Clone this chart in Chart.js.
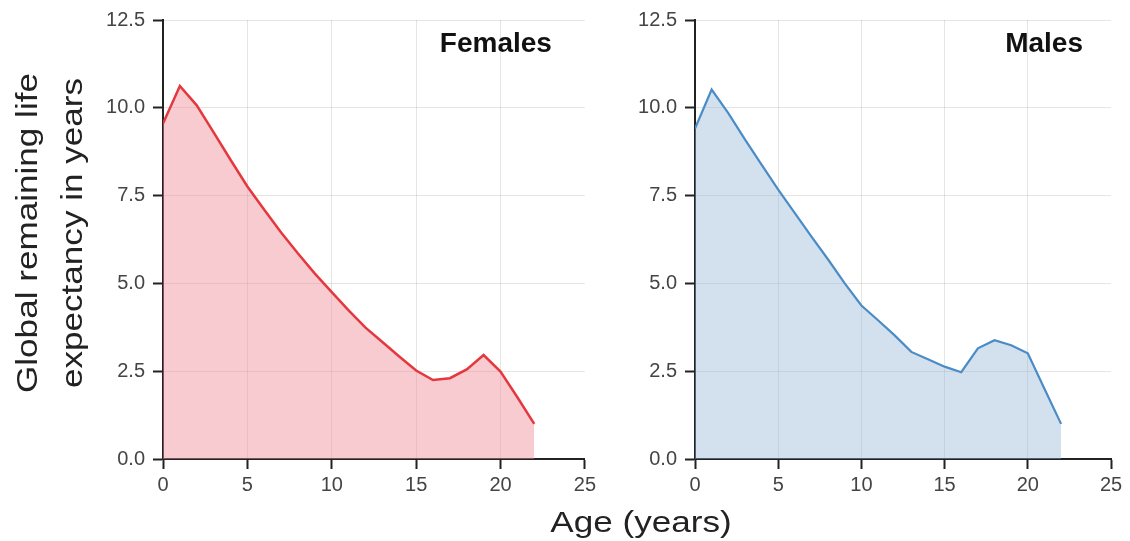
<!DOCTYPE html>
<html>
<head>
<meta charset="utf-8">
<script src="https://cdn.jsdelivr.net/npm/chart.js@4.4.1/dist/chart.umd.min.js"></script>
<style>
body{margin:0;background:#fff;width:1130px;height:541px;overflow:hidden;position:relative;font-family:"Liberation Sans",Arial,sans-serif;}
#c1{position:absolute;left:0;top:0;}
#c2{position:absolute;left:600px;top:0;}
.ylab{position:absolute;left:-151px;top:188px;width:400px;height:90px;text-align:center;font-size:30px;line-height:45px;color:#222;transform:rotate(-90deg) scaleX(1.17);transform-origin:50% 50%;white-space:nowrap;}
.xlab{position:absolute;left:641px;top:507px;line-height:30px;transform:translateX(-50%) scaleX(1.17);font-size:30px;color:#222;white-space:nowrap;}
</style>
</head>
<body>
<canvas id="c1" width="600" height="520"></canvas>
<canvas id="c2" width="530" height="520"></canvas>
<div class="ylab">Global remaining life<br>expectancy in years</div>
<div class="xlab">Age (years)</div>
<script>
// data
var ages = [0,1,2,3,4,5,6,7,8,9,10,11,12,13,14,15,16,17,18,19,20,21,22];
var females = [9.55,10.62,10.07,9.3,8.52,7.76,7.1,6.45,5.85,5.28,4.75,4.23,3.74,3.33,2.92,2.52,2.25,2.3,2.55,2.96,2.49,1.76,1.0];
var males = [9.41,10.52,9.85,9.1,8.38,7.67,7.0,6.33,5.68,5.0,4.37,3.95,3.52,3.05,2.84,2.63,2.47,3.15,3.38,3.24,3.01,2.0,1.0];
var xTicks = [0,5,10,15,20,25];
var yTicks = [0,2.5,5,7.5,10,12.5];

//panel title in the top right corner
var titlePlugin = {
    id:"paneltitle",
    afterDraw:function(chart){
        var c = chart.ctx, a = chart.chartArea, o = chart.options.plugins.paneltitle;
        c.save();
        c.font = "bold 28px 'Liberation Sans', Arial, sans-serif";
        c.fillStyle = "#111";
        c.textAlign = "right";
        c.textBaseline = "alphabetic";
        c.fillText(o.text, a.right - o.inset, a.top + 32);
        c.restore();
    }
};

function makeChart(id, vals, line, fill, lw, title, yw, pad, inset){
    var pts = ages.map(function(a,i){return {x:a, y:vals[i]};});
    return new Chart(document.getElementById(id), {
        type:"line",
        data:{datasets:[{data:pts, borderColor:line, backgroundColor:fill, borderWidth:lw, fill:"origin", pointRadius:0, tension:0}]},
        plugins:[titlePlugin],
        options:{
            responsive:false, animation:false,
            layout:{padding:{top:18, right:pad, left:0, bottom:0}},
            plugins:{legend:{display:false}, tooltip:{enabled:false}, paneltitle:{text:title, inset:inset}},
            scales:{
                x:{type:"linear", min:0, max:25,
                    afterBuildTicks:function(s){s.ticks = xTicks.map(function(v){return {value:v};});},
                    afterFit:function(s){s.height = 61;},
                    grid:{color:function(ctx){return ctx.tick && ctx.tick.value==25 ? "rgba(0,0,0,0)" : "rgba(0,0,0,0.1)";}, tickLength:10, tickColor:"#222", tickWidth:2},
                    border:{color:"#222", width:2},
                    ticks:{color:"#444", font:{size:20, family:"'Liberation Sans', Arial"}, padding:4, maxRotation:0}
                },
                y:{min:0, max:12.5,
                    afterBuildTicks:function(s){s.ticks = yTicks.map(function(v){return {value:v};});},
                    afterFit:function(s){s.width = yw;},
                    grid:{color:"rgba(0,0,0,0.1)", tickLength:10, tickColor:"#222", tickWidth:2},
                    border:{color:"#222", width:2},
                    ticks:{color:"#444", font:{size:20, family:"'Liberation Sans', Arial"}, padding:8,
                        callback:function(v){return v.toFixed(1);}}
                }
            }
        }
    });
}

makeChart("c1", females, "#e5383e", "rgba(240,140,150,0.45)", 2.5, "Females", 163, 15, 33);
makeChart("c2", males, "#4a8cc6", "rgba(150,180,214,0.42)", 2.2, "Males", 95, 19, 28);
</script>
</body>
</html>
